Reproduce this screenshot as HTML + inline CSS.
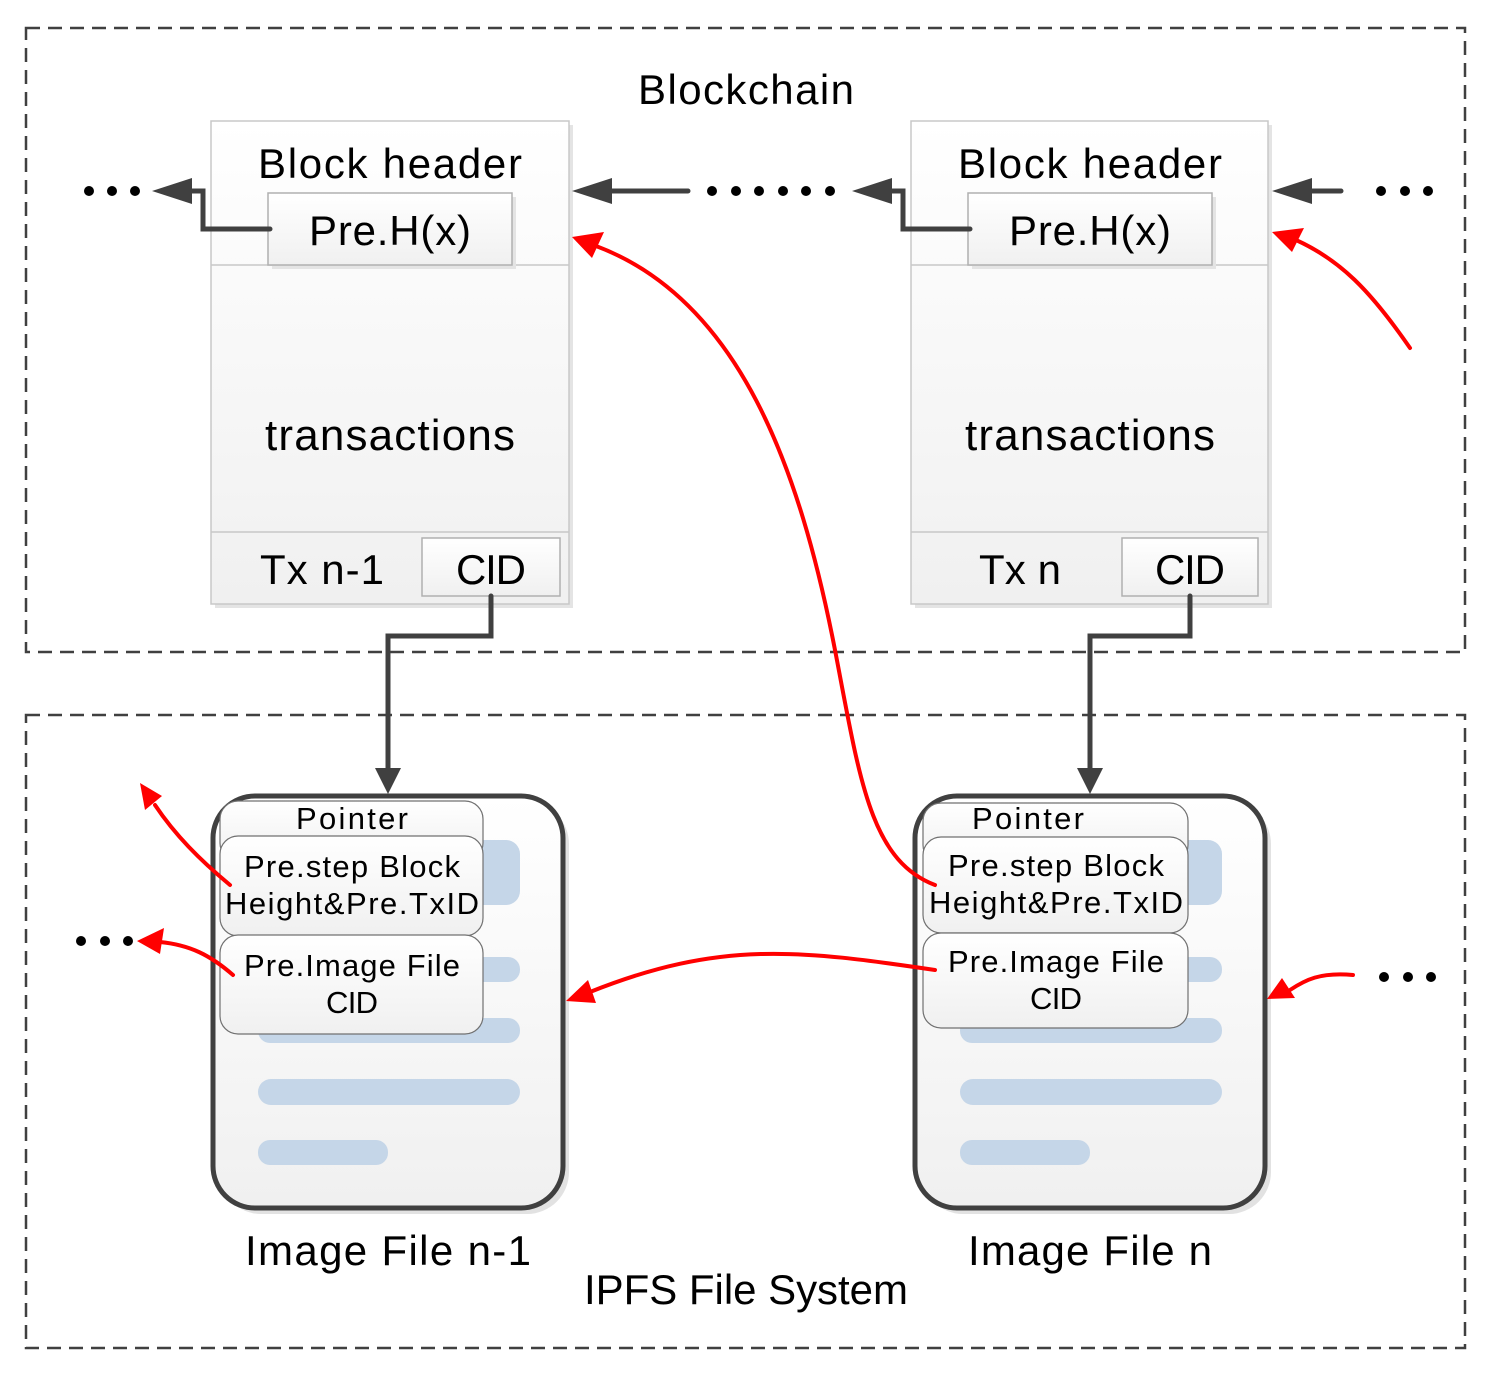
<!DOCTYPE html>
<html><head><meta charset="utf-8"><style>html,body{margin:0;padding:0;background:#fff}</style></head>
<body>
<svg width="1490" height="1373" viewBox="0 0 1490 1373" xmlns="http://www.w3.org/2000/svg" font-family="Liberation Sans, sans-serif">
<defs>
<linearGradient id="g" x1="0" y1="0" x2="0" y2="1"><stop offset="0" stop-color="#ffffff"/><stop offset="1" stop-color="#f0f0f0"/></linearGradient>
<marker id="ah" viewBox="0 0 10 10" refX="9" refY="5" markerWidth="9" markerHeight="7" markerUnits="userSpaceOnUse" orient="auto"><path d="M0,0L10,5L0,10z" fill="#404040"/></marker>
<marker id="rh" viewBox="0 0 10 10" refX="9" refY="5" markerWidth="7" markerHeight="6" orient="auto"><path d="M0,0L10,5L0,10z" fill="#ff0000"/></marker>
<marker id="dh" viewBox="0 0 10 10" refX="9" refY="5" markerWidth="5" markerHeight="5" orient="auto"><path d="M0,0L10,5L0,10z" fill="#404040"/></marker>
</defs>
<g fill="none" stroke="#404040" stroke-width="2.5" stroke-dasharray="14,8">
<rect x="26" y="28" width="1439" height="624"/>
<rect x="26" y="715" width="1439" height="633"/>
</g>
<text x="746" y="104" font-size="42" text-anchor="middle" textLength="216">Blockchain</text>

<!-- blocks -->
<g>
<rect x="215" y="125" width="358" height="483" fill="#e4e4e4"/>
<rect x="211" y="121" width="358" height="483" fill="url(#g)" stroke="#c8c8c8" stroke-width="1.5"/>
<line x1="211" y1="265" x2="569" y2="265" stroke="#c8c8c8" stroke-width="1.5"/>
<line x1="211" y1="532" x2="569" y2="532" stroke="#c8c8c8" stroke-width="1.5"/>
<rect x="272" y="197" width="244" height="72" fill="#e4e4e4"/>
<rect x="268" y="193" width="244" height="72" fill="url(#g)" stroke="#b0b0b0" stroke-width="1.5"/>
<rect x="422" y="538" width="138" height="58" fill="url(#g)" stroke="#b0b0b0" stroke-width="1.5"/>
<text x="390" y="178" font-size="42" text-anchor="middle" textLength="264">Block header</text>
<text x="390" y="245" font-size="42" text-anchor="middle" textLength="162">Pre.H(x)</text>
<text x="390" y="450" font-size="44" text-anchor="middle" textLength="250">transactions</text>
<text x="322" y="584" font-size="42" text-anchor="middle" textLength="124">Tx n-1</text>
<text x="491" y="584" font-size="42" text-anchor="middle" textLength="70">CID</text>
</g>
<g>
<rect x="915" y="125" width="357" height="483" fill="#e4e4e4"/>
<rect x="911" y="121" width="357" height="483" fill="url(#g)" stroke="#c8c8c8" stroke-width="1.5"/>
<line x1="911" y1="265" x2="1268" y2="265" stroke="#c8c8c8" stroke-width="1.5"/>
<line x1="911" y1="532" x2="1268" y2="532" stroke="#c8c8c8" stroke-width="1.5"/>
<rect x="972" y="197" width="244" height="72" fill="#e4e4e4"/>
<rect x="968" y="193" width="244" height="72" fill="url(#g)" stroke="#b0b0b0" stroke-width="1.5"/>
<rect x="1122" y="538" width="136" height="58" fill="url(#g)" stroke="#b0b0b0" stroke-width="1.5"/>
<text x="1090" y="178" font-size="42" text-anchor="middle" textLength="264">Block header</text>
<text x="1090" y="245" font-size="42" text-anchor="middle" textLength="162">Pre.H(x)</text>
<text x="1090" y="450" font-size="44" text-anchor="middle" textLength="250">transactions</text>
<text x="1020" y="584" font-size="42" text-anchor="middle" textLength="82">Tx n</text>
<text x="1190" y="584" font-size="42" text-anchor="middle" textLength="70">CID</text>
</g>

<!-- dark connectors -->
<g fill="none" stroke="#404040" stroke-width="5" stroke-linecap="round">
<path d="M270,229 H203 V191 H190"/>
<path d="M970,229 H903 V191 H890"/>
<line x1="688" y1="191" x2="612" y2="191"/>
<line x1="1341" y1="191" x2="1310" y2="191"/>
<path d="M491,596 V636 H388 V770"/>
<path d="M1190,596 V636 H1090 V770"/>
</g>
<g fill="#404040">
<path d="M152,191 L192,178 L192,204z"/>
<path d="M852,191 L892,178 L892,204z"/>
<path d="M572,191 L612,178 L612,204z"/>
<path d="M1272,191 L1312,178 L1312,204z"/>
<path d="M388,794 L375,768 L401,768z"/>
<path d="M1090,794 L1077,768 L1103,768z"/>
</g>
<g fill="#000">
<circle cx="89" cy="191" r="5"/><circle cx="112" cy="191" r="5"/><circle cx="135" cy="191" r="5"/>
<circle cx="712" cy="191" r="5"/><circle cx="736" cy="191" r="5"/><circle cx="759" cy="191" r="5"/><circle cx="783" cy="191" r="5"/><circle cx="806" cy="191" r="5"/><circle cx="830" cy="191" r="5"/>
<circle cx="1381" cy="191" r="5"/><circle cx="1405" cy="191" r="5"/><circle cx="1428" cy="191" r="5"/>
<circle cx="81" cy="941" r="5"/><circle cx="105" cy="941" r="5"/><circle cx="128" cy="941" r="5"/>
<circle cx="1384" cy="977" r="5"/><circle cx="1408" cy="977" r="5"/><circle cx="1431" cy="977" r="5"/>
</g>

<!-- image files -->
<g>
<rect x="219" y="802" width="350" height="412" rx="42" fill="#e2e2e2"/>
<rect x="213" y="796" width="350" height="412" rx="42" fill="url(#g)" stroke="#404040" stroke-width="5"/>
<rect x="921" y="802" width="350" height="412" rx="42" fill="#e2e2e2"/>
<rect x="915" y="796" width="350" height="412" rx="42" fill="url(#g)" stroke="#404040" stroke-width="5"/>
</g>
<g fill="#c5d6e8">
<rect x="258" y="840" width="262" height="65" rx="14"/>
<rect x="258" y="957" width="262" height="25" rx="12"/>
<rect x="258" y="1018" width="262" height="25" rx="12"/>
<rect x="258" y="1079" width="262" height="26" rx="13"/>
<rect x="258" y="1140" width="130" height="25" rx="12"/>
<rect x="960" y="840" width="262" height="65" rx="14"/>
<rect x="960" y="957" width="262" height="25" rx="12"/>
<rect x="960" y="1018" width="262" height="25" rx="12"/>
<rect x="960" y="1079" width="262" height="26" rx="13"/>
<rect x="960" y="1140" width="130" height="25" rx="12"/>
</g>
<g fill="url(#g)" stroke="#707070" stroke-width="1.2">
<rect x="220" y="801" width="263" height="60" rx="18"/>
<rect x="220" y="836" width="263" height="100" rx="18"/>
<rect x="220" y="935" width="263" height="99" rx="18"/>
<rect x="923" y="803" width="265" height="60" rx="18"/>
<rect x="923" y="837" width="265" height="96" rx="18"/>
<rect x="923" y="933" width="265" height="95" rx="18"/>
</g>
<g font-size="31" text-anchor="middle" fill="#000">
<text x="352" y="829" textLength="112">Pointer</text>
<text x="352" y="877" textLength="216">Pre.step Block</text>
<text x="352" y="914" textLength="254">Height&amp;Pre.TxID</text>
<text x="352" y="976" textLength="216">Pre.Image File</text>
<text x="352" y="1013" textLength="52">CID</text>
<text x="1028" y="829" textLength="112">Pointer</text>
<text x="1056" y="876" textLength="216">Pre.step Block</text>
<text x="1056" y="913" textLength="254">Height&amp;Pre.TxID</text>
<text x="1056" y="972" textLength="216">Pre.Image File</text>
<text x="1056" y="1009" textLength="52">CID</text>
</g>
<text x="388" y="1265" font-size="42" text-anchor="middle" textLength="286">Image File n-1</text>
<text x="1090" y="1265" font-size="42" text-anchor="middle" textLength="244">Image File n</text>
<text x="746" y="1304" font-size="42" text-anchor="middle" textLength="324">IPFS File System</text>

<!-- red arrows -->
<g fill="none" stroke="#ff0000" stroke-width="4" stroke-linecap="round">
<path d="M935,885 C870,860 860,780 835,650 C800,470 740,300 596,246"/>
<path d="M1410,348 C1370,290 1340,260 1296,240"/>
<path d="M230,885 C200,860 175,835 155,805"/>
<path d="M233,975 C210,955 190,945 160,942"/>
<path d="M935,970 C800,950 720,940 590,992"/>
<path d="M1353,975 C1320,972 1305,980 1290,990"/>
</g>
<g fill="#ff0000">
<path d="M572,237 L604,232 L592,258z"/>
<path d="M1272,232 L1304,228 L1292,252z"/>
<path d="M140,783 L162,796 L145,810z"/>
<path d="M137,941 L164,928 L160,954z"/>
<path d="M566,1001 L588,980 L596,1003z"/>
<path d="M1267,999 L1282,978 L1295,998z"/>
</g>
</svg>
</body></html>
